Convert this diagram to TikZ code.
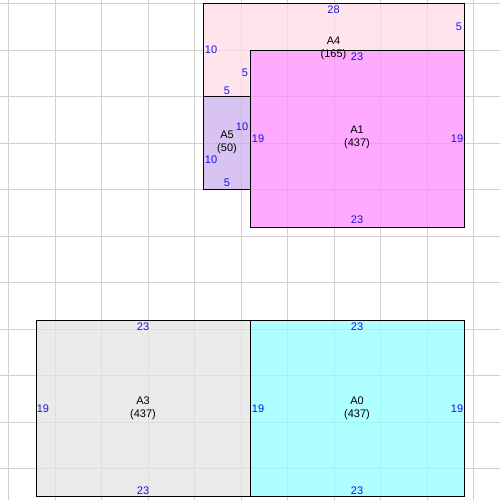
\documentclass[tikz,border=0pt]{standalone}
\usepackage{fontspec}
\setmainfont{Liberation Sans}
\definecolor{gridc}{RGB}{208,208,208}
\definecolor{cA0}{RGB}{148,255,255}
\definecolor{cA1}{RGB}{255,142,255}
\definecolor{cA3}{RGB}{227,227,227}
\definecolor{cA4}{RGB}{255,219,230}
\definecolor{cA5}{RGB}{203,176,240}
\definecolor{dimc}{RGB}{20,20,235}
\begin{document}
\begin{tikzpicture}[x=1pt,y=-1pt,
  region/.style={fill opacity=0.75, draw opacity=1, draw=black, line width=1pt},
  dimlbl/.style={text=dimc, inner sep=0pt, font=\fontsize{11}{13}\selectfont},
  arealbl/.style={text=black, inner sep=0pt, align=center, font=\fontsize{11}{13}\selectfont}]
\useasboundingbox (0,0) rectangle (500,500);
\fill[white] (0,0) rectangle (500,500);
% grid
\foreach \g in {8.5,55,101.5,148,194.5,241,287.5,334,380.5,427,473.5}
  \draw[gridc, line width=1pt] (\g,0) -- (\g,500);
\foreach \g in {3.8,50.3,96.8,143.3,189.8,236.3,282.8,329.3,375.8,422.3,468.8}
  \draw[gridc, line width=1pt] (0,\g) -- (500,\g);
% regions
\path[region, fill=cA4] (203.8,3.8) -- (464.3,3.8) -- (464.3,50.3) -- (250.3,50.3) -- (250.3,96.8) -- (203.8,96.8) -- cycle;
\path[region, fill=cA5] (203.8,96.8) rectangle (250.3,189.8);
\path[region, fill=cA1] (250.3,50.3) rectangle (464.3,227.1);
\path[region, fill=cA3] (36.3,320.1) rectangle (250.3,496.9);
\path[region, fill=cA0] (250.3,320.1) rectangle (464.3,496.9);
% A4 labels
\node[dimlbl] (a4t) at (333.5,10) {28};
\node[dimlbl] (a4r) at (459,27) {5};
\node[dimlbl] (a4l) at (211,50) {10};
\node[dimlbl] (a4iv) at (245,73) {5};
\node[dimlbl] (a4ib) at (227,91) {5};
\node[arealbl] (a4n) at (333.5,48.5) {A4\\(165)};
% A5 labels
\node[dimlbl] (a5r) at (242,126.5) {10};
\node[dimlbl] (a5l) at (211,160) {10};
\node[dimlbl] (a5b) at (227,183) {5};
\node[arealbl] (a5n) at (227,142.5) {A5\\(50)};
% A1 labels
\node[dimlbl] (a1t) at (357,57) {23};
\node[dimlbl] (a1l) at (258,139) {19};
\node[dimlbl] (a1r) at (457,139) {19};
\node[dimlbl] (a1b) at (357,220) {23};
\node[arealbl] (a1n) at (357,137) {A1\\(437)};
% A3 labels
\node[dimlbl] (a3t) at (143,327) {23};
\node[dimlbl] (a3l) at (43,409) {19};
\node[dimlbl] (a3b) at (143,491) {23};
\node[arealbl] (a3n) at (143,408) {A3\\(437)};
% A0 labels
\node[dimlbl] (a0t) at (357,327) {23};
\node[dimlbl] (a0l) at (258,409) {19};
\node[dimlbl] (a0r) at (457,409) {19};
\node[dimlbl] (a0b) at (357,491) {23};
\node[arealbl] (a0n) at (357,408) {A0\\(437)};
\end{tikzpicture}
\end{document}
